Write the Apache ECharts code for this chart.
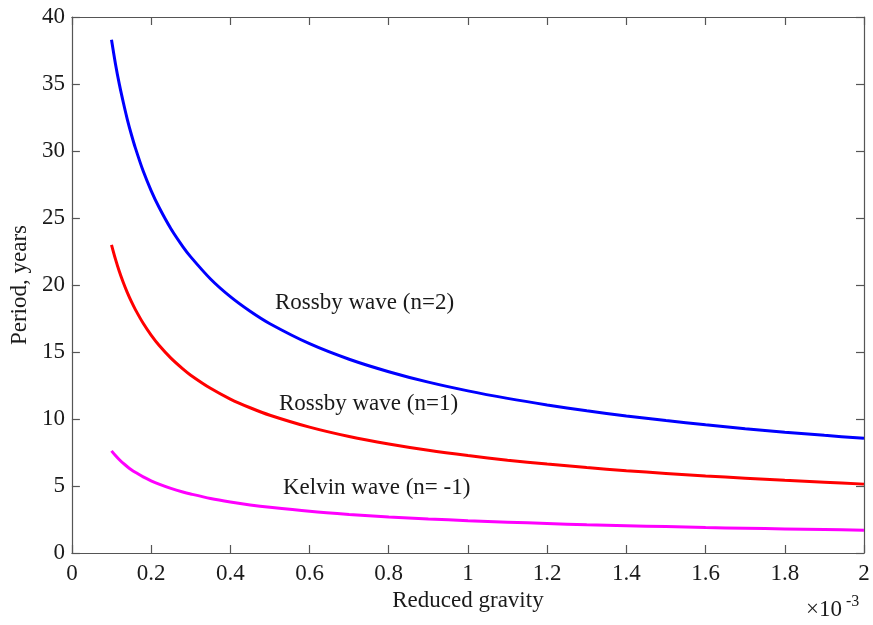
<!DOCTYPE html>
<html>
<head>
<meta charset="utf-8">
<script src="https://cdn.jsdelivr.net/npm/echarts@6/dist/echarts.min.js"></script>
<style>
html,body{margin:0;padding:0;background:#fff;}
#c{width:873px;height:625px;}
</style>
</head>
<body>
<div id="c"></div>
<script>
// Reduced gravity (×10^-3)
const xValues = [0.1, 0.11, 0.12, 0.13, 0.14, 0.15, 0.16, 0.18, 0.2, 0.22, 0.25, 0.28, 0.3, 0.35, 0.4, 0.45, 0.5, 0.6, 0.7, 0.8, 0.9, 1.0, 1.1, 1.2, 1.3, 1.4, 1.5, 1.6, 1.7, 1.8, 1.9, 2.0];
// Period, years
const rossby2 = [38.3, 36.5, 34.95, 33.6, 32.35, 31.25, 30.25, 28.5, 27.05, 25.8, 24.2, 22.87, 22.1, 20.45, 19.13, 18.04, 17.11, 15.62, 14.46, 13.53, 12.75, 12.1, 11.54, 11.05, 10.61, 10.23, 9.88, 9.57, 9.28, 9.02, 8.78, 8.56];
const rossby1 = [23.0, 21.93, 20.99, 20.17, 19.43, 18.77, 18.18, 17.14, 16.26, 15.5, 14.54, 13.74, 13.27, 12.29, 11.49, 10.84, 10.28, 9.39, 8.69, 8.13, 7.66, 7.27, 6.93, 6.64, 6.38, 6.14, 5.94, 5.75, 5.58, 5.42, 5.28, 5.14];
const kelvin  = [7.62, 7.27, 6.96, 6.68, 6.44, 6.22, 6.03, 5.68, 5.39, 5.14, 4.82, 4.55, 4.4, 4.07, 3.81, 3.59, 3.41, 3.11, 2.88, 2.69, 2.54, 2.41, 2.3, 2.2, 2.11, 2.04, 1.97, 1.9, 1.85, 1.8, 1.75, 1.7];
const seriesLabels = ['Rossby wave (n=2)', 'Rossby wave (n=1)', 'Kelvin wave (n= -1)'];
const xTicks = [0, 0.2, 0.4, 0.6, 0.8, 1, 1.2, 1.4, 1.6, 1.8, 2];
const yTicks = [0, 5, 10, 15, 20, 25, 30, 35, 40];

const FONT = '"Liberation Serif", "Times New Roman", serif';
const FS = 23;
const AXIS_COLOR = '#555';
const TEXT_COLOR = '#1a1a1a';

const pairs = arr => xValues.map((x, i) => [x, arr[i]]);

const chart = echarts.init(document.getElementById('c'), null, {renderer: 'canvas'});

const baseX = {
  type: 'value', min: 0, max: 2, interval: 0.2,
  splitLine: {show: false},
  axisLine: {show: true, onZero: false, lineStyle: {color: AXIS_COLOR, width: 1.2}},
  axisTick: {show: true, inside: true, length: 8, lineStyle: {color: AXIS_COLOR, width: 1.2}}
};
const baseY = {
  type: 'value', min: 0, max: 40, interval: 5,
  splitLine: {show: false},
  axisLine: {show: true, onZero: false, lineStyle: {color: AXIS_COLOR, width: 1.2}},
  axisTick: {show: true, inside: true, length: 8, lineStyle: {color: AXIS_COLOR, width: 1.2}}
};

chart.setOption({
  animation: false,
  backgroundColor: '#fff',
  grid: {left: 71, right: 9, top: 17, bottom: 72, containLabel: false},
  xAxis: [
    Object.assign({}, baseX, {
      position: 'bottom',
      name: 'Reduced gravity', nameLocation: 'middle', nameGap: 36,
      nameTextStyle: {fontFamily: FONT, fontSize: FS, color: TEXT_COLOR},
      axisLabel: {show: true, margin: 9, fontFamily: FONT, fontSize: FS, color: TEXT_COLOR,
        formatter: v => { const t = xTicks.find(k => Math.abs(k - v) < 1e-9); return t === undefined ? '' : String(t); }}
    }),
    Object.assign({}, baseX, {position: 'top', axisLabel: {show: false}})
  ],
  yAxis: [
    Object.assign({}, baseY, {
      position: 'left',
      name: 'Period, years', nameLocation: 'middle', nameGap: 39, nameRotate: 90,
      nameTextStyle: {fontFamily: FONT, fontSize: FS, color: TEXT_COLOR},
      axisLabel: {show: true, margin: 7, fontFamily: FONT, fontSize: FS, color: TEXT_COLOR,
        formatter: v => { const t = yTicks.find(k => Math.abs(k - v) < 1e-9); return t === undefined ? '' : String(t); }}
    }),
    Object.assign({}, baseY, {position: 'right', axisLabel: {show: false}})
  ],
  series: [
    {name: seriesLabels[0], type: 'line', data: pairs(rossby2), smooth: 0.3, showSymbol: false,
     lineStyle: {color: '#0000ff', width: 3}, itemStyle: {color: '#0000ff'}},
    {name: seriesLabels[1], type: 'line', data: pairs(rossby1), smooth: 0.3, showSymbol: false,
     lineStyle: {color: '#ff0000', width: 3}, itemStyle: {color: '#ff0000'}},
    {name: seriesLabels[2], type: 'line', data: pairs(kelvin), smooth: 0.3, showSymbol: false,
     lineStyle: {color: '#ff00ff', width: 3}, itemStyle: {color: '#ff00ff'}}
  ],
  graphic: [
    {type: 'text', x: 275, y: 303, style: {text: seriesLabels[0], font: FS + 'px ' + FONT, fill: TEXT_COLOR, textAlign: 'left', textVerticalAlign: 'middle'}},
    {type: 'text', x: 279, y: 404, style: {text: seriesLabels[1], font: FS + 'px ' + FONT, fill: TEXT_COLOR, textAlign: 'left', textVerticalAlign: 'middle'}},
    {type: 'text', x: 283, y: 488, style: {text: seriesLabels[2], font: FS + 'px ' + FONT, fill: TEXT_COLOR, textAlign: 'left', textVerticalAlign: 'middle'}},
    {type: 'text', x: 806, y: 610, style: {text: '×10', font: FS + 'px ' + FONT, fill: TEXT_COLOR, textAlign: 'left', textVerticalAlign: 'middle'}},
    {type: 'text', x: 846, y: 602, style: {text: '-3', font: '16px ' + FONT, fill: TEXT_COLOR, textAlign: 'left', textVerticalAlign: 'middle'}}
  ]
});
</script>
</body>
</html>
